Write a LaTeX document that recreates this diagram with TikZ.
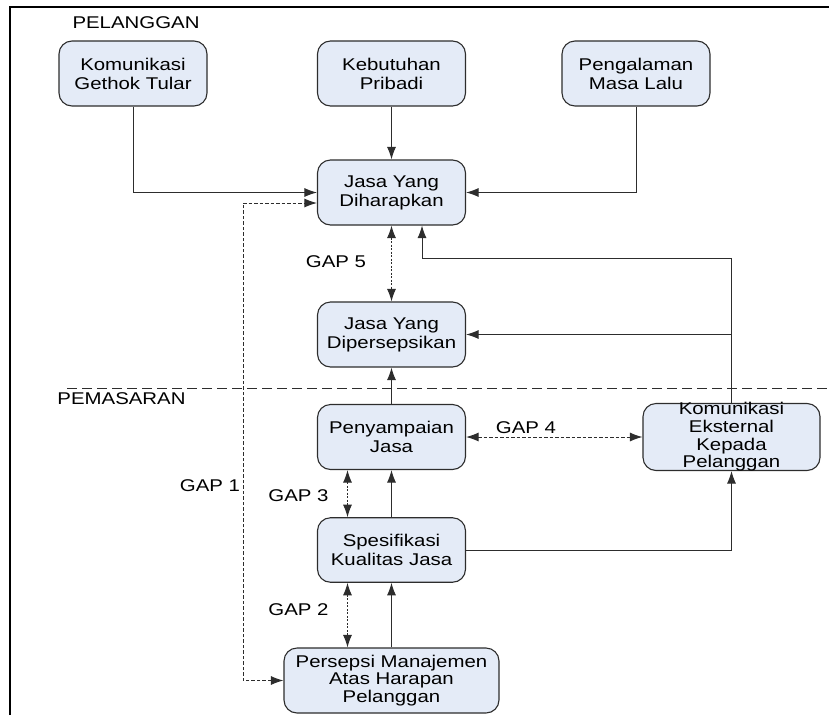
\documentclass[tikz,border=0pt]{standalone}
\usepackage{fontspec}
\setmainfont{Liberation Sans}[FakeStretch=1.2]
\usetikzlibrary{arrows.meta}
\definecolor{kotakbiru}{RGB}{228,235,247}
\definecolor{garis}{RGB}{45,45,45}

\begin{document}
\begin{tikzpicture}[x=1pt,y=-1pt,>={Latex[length=12.5pt,width=9pt]},line width=1pt,color=garis,
    main node/.style={draw=garis,fill=kotakbiru,rounded corners=13pt,line width=1.1pt,minimum width=148pt,minimum height=65pt,align=center,text=black,font=\fontsize{17}{19}\selectfont},
    gap line/.style={<->,dash pattern=on 2pt off 1.5pt},
    gap label/.style={inner sep=0pt,text=black,font=\fontsize{17}{19}\selectfont}]

\useasboundingbox (0,0) rectangle (829,715);
\draw[line width=2pt,black] (10,715) -- (10,7) -- (829,7);
\draw[dash pattern=on 10pt off 5pt] (67,388) -- (829,388);

\node[gap label] (pelanggan) at (136,22.5) {PELANGGAN};
\node[gap label] (pemasaran) at (121.5,398.5) {PEMASARAN};

\node[main node] (wom) at (133,73.5) {Komunikasi\\Gethok Tular};
\node[main node] (kebutuhan) at (391.5,73.5) {Kebutuhan\\Pribadi};
\node[main node] (pengalaman) at (636,73.5) {Pengalaman\\Masa Lalu};
\node[main node] (harapan) at (391.5,192.5) {Jasa Yang\\Diharapkan};
\node[main node] (dipersepsi) at (391.5,334.5) {Jasa Yang\\Dipersepsikan};
\node[main node] (penyampaian) at (391.5,437) {Penyampaian\\Jasa};
\node[main node,minimum width=177pt,minimum height=67pt,inner ysep=-4pt,font=\fontsize{17}{17.7}\selectfont] (eksternal) at (731.5,437) {Komunikasi\\Eksternal\\Kepada\\Pelanggan};
\node[main node,minimum height=64.5pt] (spesifikasi) at (391.5,550) {Spesifikasi\\Kualitas Jasa};
\node[main node,minimum width=215pt,font=\fontsize{17}{17.5}\selectfont] (manajemen) at (391.5,680.5) {Persepsi Manajemen\\Atas Harapan\\Pelanggan};

\coordinate (gap1) at (243,440);
\coordinate (belok) at (422,258);

\draw[->] (wom) |- (harapan);
\draw[->] (pengalaman) |- (harapan);
\path[->] (kebutuhan) edge (harapan)
    (penyampaian) edge (dipersepsi)
    (spesifikasi) edge (penyampaian)
    (manajemen) edge (spesifikasi);
\draw[->] (eksternal) |- (belok) -- (belok |- harapan.south);
\draw[->] (eksternal.north |- dipersepsi) -- (dipersepsi);
\draw[->] (spesifikasi) -| (eksternal);

\draw[<->,dash pattern=on 3.5pt off 2pt] (manajemen.west) -| (gap1) |- ([yshift=-10.5pt]harapan.west);
\draw[gap line] (harapan) -- (dipersepsi);
\draw[<->,dash pattern=on 3.5pt off 2pt] (penyampaian.east) -- node[gap label,pos=.34,above=3pt] (gap4) {GAP 4} (penyampaian.east -| eksternal.west);
\draw[gap line] ([xshift=-44pt]penyampaian.south) -- ([xshift=-44pt]spesifikasi.north);
\draw[gap line] ([xshift=-44pt]spesifikasi.south) -- ([xshift=-44pt]manajemen.north);

\node[gap label] (gap1label) at (210,485.5) {GAP 1};
\node[gap label] (gap5) at (336,261.5) {GAP 5};
\node[gap label] (gap3) at (298.5,495.5) {GAP 3};
\node[gap label] (gap2) at (298.5,610) {GAP 2};

\end{tikzpicture}
\end{document}
